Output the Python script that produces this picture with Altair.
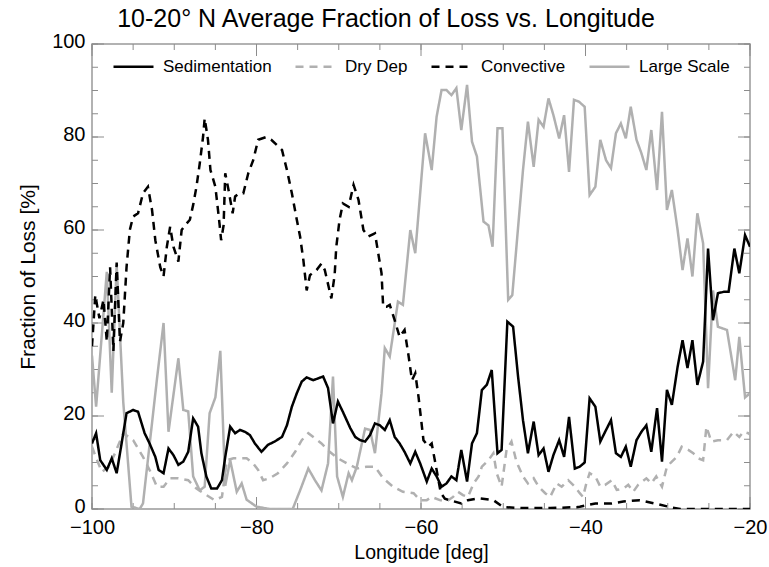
import altair as alt
import pandas as pd

FONT = "Liberation Sans"
SERIES = ["Sedimentation", "Dry Dep", "Convective", "Large Scale"]
COLORS = ["#000000", "#b0b0b0", "#000000", "#b0b0b0"]
DASHES = [[1, 0], [8, 6], [8, 6], [1, 0]]
DRAW_ORDER = ["Large Scale", "Dry Dep", "Convective", "Sedimentation"]

X_LABELS = [-100, -80, -60, -40, -20]
Y_LABELS = [0, 20, 40, 60, 80, 100]
X_MINOR = list(range(-100, -19, 5))
Y_MINOR = list(range(0, 101, 5))

# (longitude, percent)
sedimentation = [(-100, 14.1), (-99.5, 16.3), (-99.0, 10.5), (-98.2, 8.4), (-97.6, 10.9), (-97.0, 7.7),
    (-96.4, 14.1), (-95.8, 20.6), (-95.0, 21.3), (-94.4, 20.9), (-93.6, 16.3), (-93.0, 14.1),
    (-92.3, 11.2), (-91.9, 8.4), (-91.3, 7.7), (-90.7, 13), (-90.1, 11.6), (-89.5, 9.5),
    (-88.9, 10.2), (-88.3, 12.3), (-87.7, 19.5), (-87.1, 17.7), (-86.7, 12), (-86.1, 7),
    (-85.5, 4.4), (-84.8, 4.4), (-84.2, 6.2), (-83.8, 11.2), (-83.2, 17.7), (-82.6, 16.3),
    (-82.0, 17), (-81.4, 16.6), (-80.8, 15.9), (-80.2, 14.1), (-79.4, 12.3), (-78.6, 13.8),
    (-77.8, 14.5), (-76.9, 15.5), (-76.3, 18), (-75.7, 22), (-75.1, 24.9), (-74.5, 27.4),
    (-73.9, 28.3), (-73.1, 27.7), (-72.5, 28.1), (-71.9, 28.5), (-71.3, 26), (-70.7, 18.4),
    (-70.1, 23.1), (-69.5, 20.9), (-68.6, 17.4), (-68.0, 15.5), (-67.4, 14.8), (-66.8, 14.5),
    (-66.2, 15.9), (-65.6, 18.4), (-65.0, 18), (-64.4, 17), (-63.8, 19.1), (-63.2, 15.5),
    (-62.6, 14.1), (-62.0, 12.3), (-61.3, 9.8), (-60.7, 12.3), (-60.1, 9.8), (-59.3, 5.9),
    (-58.7, 8.7), (-58.1, 7), (-57.5, 4.8), (-56.9, 5.5), (-56.3, 7), (-55.7, 6.2),
    (-55.1, 12.7), (-54.4, 5.9), (-53.8, 14.1), (-53.2, 16.3), (-52.6, 25.6), (-52.0, 26.7),
    (-51.4, 29.9), (-50.7, 12), (-50.2, 12.7), (-49.5, 40.3), (-48.8, 39.2), (-48.2, 28.5),
    (-47.6, 19.1), (-47.0, 12), (-46.3, 18.8), (-45.7, 11.6), (-45.1, 13), (-44.5, 8),
    (-43.9, 11.6), (-43.2, 14.8), (-42.6, 11.2), (-42.0, 19.8), (-41.3, 8.7), (-40.7, 9.1),
    (-40.1, 10), (-39.5, 23.8), (-38.8, 22), (-38.2, 14.5), (-37.5, 17), (-36.9, 19.1),
    (-36.3, 12), (-35.7, 11.2), (-35.1, 13.4), (-34.5, 9.1), (-33.8, 14.8), (-33.2, 16.6),
    (-32.6, 18), (-32.0, 12.3), (-31.3, 21.7), (-30.7, 10.2), (-30.1, 25.6), (-29.5, 22.4),
    (-28.8, 30.6), (-28.2, 36.3), (-27.6, 30.3), (-27.0, 36.3), (-26.4, 26.7), (-25.7, 31.7),
    (-25.1, 56), (-24.5, 40.6), (-23.9, 46.4), (-23.2, 46.7), (-22.6, 46.7), (-21.9, 56),
    (-21.3, 50.7), (-20.6, 58.9), (-20.0, 56.4)]

dry_dep = [(-100, 13.4), (-99.5, 11), (-98.8, 8), (-98.0, 9), (-97.2, 12), (-96.2, 16.3),
    (-95.0, 14.8), (-93.8, 11.2), (-93.0, 8.4), (-92.1, 4.8), (-91.3, 4.8), (-90.5, 6.6),
    (-89.5, 6.6), (-88.3, 6.2), (-87.3, 4.4), (-86.1, 3), (-85.1, 1.9), (-84.2, 2.6),
    (-83.6, 10.5), (-82.8, 10.9), (-82.0, 10.9), (-81.2, 10.9), (-80.4, 9.8), (-79.8, 8.4),
    (-79.2, 6.2), (-78.4, 6.6), (-77.4, 7.7), (-76.3, 9.8), (-75.3, 12.3), (-74.5, 14.8),
    (-73.7, 16.3), (-72.9, 15.2), (-72.1, 14.1), (-71.1, 12.3), (-70.1, 10.9), (-69.0, 9.8),
    (-67.8, 8.7), (-66.6, 9.1), (-65.6, 9.1), (-64.6, 6.6), (-63.4, 4.8), (-62.2, 3.7),
    (-60.9, 3.4), (-60.1, 1.9), (-59.3, 1.9), (-58.7, 2.6), (-57.7, 1.9), (-56.9, 1.6),
    (-56.1, 2.6), (-55.5, 3.7), (-54.9, 3), (-54.3, 2.6), (-53.6, 5.5), (-53.0, 7),
    (-52.6, 9.1), (-51.8, 10.5), (-51.2, 12), (-50.8, 7.7), (-50.2, 4.8), (-49.6, 12.7),
    (-49.0, 14.5), (-48.4, 10.2), (-47.6, 7), (-47.0, 5.5), (-46.3, 6.6), (-45.7, 4.8),
    (-44.9, 3.4), (-44.3, 2.6), (-43.5, 5.5), (-42.9, 4.8), (-42.1, 6.2), (-41.3, 4.8),
    (-40.7, 3.4), (-40.3, 2.6), (-39.9, 5.5), (-39.5, 7.7), (-38.8, 7), (-38.2, 4.8),
    (-37.6, 5.2), (-36.8, 6.2), (-36.2, 4.1), (-35.4, 4.4), (-34.8, 5.2), (-34.2, 3.7),
    (-33.6, 5.2), (-32.6, 6.6), (-32.0, 5.5), (-31.4, 7), (-30.7, 4.8), (-30.1, 9.1),
    (-29.5, 10.2), (-28.9, 11.2), (-28.3, 13.4), (-27.5, 12.7), (-26.9, 12), (-26.3, 10.9),
    (-25.7, 10.5), (-25.3, 17.7), (-24.7, 14.5), (-23.9, 14.8), (-22.8, 14.8), (-22.0, 16.6),
    (-21.3, 15.5), (-20.8, 16.6), (-20.2, 16.3), (-20.0, 16)]

convective = [(-100, 35), (-99.6, 46), (-99.1, 41), (-98.6, 45), (-98.2, 36), (-97.8, 52),
    (-97.4, 34), (-97.0, 53), (-96.6, 36), (-96.2, 40), (-95.8, 52), (-95.4, 60),
    (-95.0, 62.9), (-94.4, 63.6), (-93.8, 67.9), (-93.2, 69.3), (-92.7, 64.3), (-92.3, 57.8),
    (-91.7, 52), (-91.3, 50), (-90.9, 56.4), (-90.5, 60.7), (-90.1, 56.4), (-89.5, 53.2),
    (-89.1, 60), (-88.5, 61.4), (-88.1, 62.2), (-87.7, 65.4), (-87.3, 69.3), (-86.9, 74.3),
    (-86.5, 80), (-86.3, 84), (-85.9, 79.4), (-85.6, 72.9), (-85.0, 69.3), (-84.5, 61.4),
    (-84.3, 57.8), (-84.0, 61), (-83.8, 72.2), (-83.4, 68.6), (-82.9, 63.6), (-82.6, 67.2),
    (-82.1, 67.9), (-81.6, 67.9), (-81.0, 72.2), (-80.4, 75), (-79.8, 79.4), (-78.8, 80),
    (-78.2, 79.4), (-76.9, 77.2), (-76.3, 72.9), (-75.7, 67.9), (-75.1, 62.2), (-74.7, 58.6),
    (-74.3, 53.5), (-73.9, 47), (-73.5, 50.3), (-72.7, 51.4), (-72.1, 52.8), (-71.7, 51.4),
    (-70.9, 45.3), (-70.5, 50.3), (-70.3, 56.4), (-69.9, 62.2), (-69.5, 65.7), (-68.8, 65),
    (-68.2, 69.7), (-67.6, 66.5), (-67.0, 60), (-66.4, 58.6), (-65.6, 59.3), (-65.2, 55),
    (-64.8, 50.7), (-64.6, 43.5), (-64.2, 43.5), (-63.8, 43.9), (-63.2, 40.6), (-62.6, 37),
    (-62.0, 38.5), (-61.5, 32.8), (-61.1, 27.7), (-60.7, 29.2), (-60.3, 24.1), (-59.7, 14.8),
    (-59.1, 13.4), (-58.7, 14.1), (-58.1, 8.4), (-57.6, 3.5), (-57.1, 2.2), (-56.5, 1.9),
    (-55.1, 1.2), (-54.3, 1.9), (-53.0, 2.3), (-51.2, 1.9), (-50.0, 0.4), (-47.6, 0.2),
    (-44.3, 0.2), (-41.1, 0.4), (-40.7, 0.5), (-38.8, 1.2), (-36.8, 1.2), (-35.4, 1.6),
    (-33.4, 1.9), (-31.6, 1.2), (-29.7, 0.4), (-28.5, 0), (-20.0, 0)]

large_scale = [(-100, 33), (-99.5, 22), (-98.2, 51), (-97.6, 25), (-97.0, 52.5), (-96.2, 23),
    (-95.2, 0.5), (-94.2, 0), (-93.8, 1.2), (-92.1, 28), (-91.3, 40), (-90.7, 16.6),
    (-89.5, 32.4), (-88.9, 21.3), (-88.3, 21), (-87.7, 7), (-86.9, 4), (-86.3, 4.8),
    (-85.7, 20.6), (-85.0, 24), (-84.4, 34), (-83.8, 5), (-83.2, 10.5), (-82.4, 3.7),
    (-81.8, 5.5), (-81.2, 2), (-80.0, 0.5), (-78.4, 0), (-75.6, 0), (-74.7, 4),
    (-73.7, 8.7), (-72.9, 6.2), (-72.1, 4), (-71.3, 9.8), (-70.7, 28.5), (-70.2, 7),
    (-69.5, 2.6), (-68.8, 7.7), (-68.4, 6.2), (-67.8, 9.1), (-66.8, 17.3), (-66.2, 17),
    (-65.6, 12), (-64.8, 24.9), (-64.4, 34.6), (-63.8, 32.8), (-62.8, 44.6), (-62.2, 43.9),
    (-61.3, 60), (-60.7, 55), (-59.5, 80.8), (-58.7, 72.9), (-58.1, 84.4), (-57.5, 90.1),
    (-56.9, 90.1), (-56.3, 89), (-55.7, 90.5), (-55.1, 81.5), (-54.4, 91.2), (-53.8, 79),
    (-53.2, 75.8), (-52.4, 61.8), (-51.8, 61), (-51.3, 56.4), (-50.7, 81.9), (-50.1, 81.9),
    (-49.4, 45), (-48.9, 46), (-47.6, 72.9), (-47.0, 83.3), (-46.3, 73.6), (-45.7, 83.7),
    (-45.1, 82.2), (-44.5, 88.3), (-43.9, 84.7), (-43.2, 79.7), (-42.6, 84.7), (-42.0, 72.5),
    (-41.4, 88), (-40.8, 87.6), (-40.1, 86.5), (-39.5, 67.5), (-38.8, 69.3), (-38.2, 79.4),
    (-37.5, 75), (-36.9, 73.3), (-36.3, 80.8), (-35.7, 82.9), (-35.1, 79.7), (-34.5, 86.5),
    (-33.8, 79.4), (-33.2, 76.5), (-32.6, 72.9), (-32.0, 81.5), (-31.3, 68.6), (-30.7, 85.4),
    (-30.1, 64.3), (-29.5, 68.6), (-28.8, 60), (-28.2, 51.4), (-27.6, 58.2), (-27.0, 50),
    (-26.4, 63.6), (-25.7, 57.1), (-25.1, 26), (-24.5, 47), (-23.9, 39.2), (-22.8, 38.5),
    (-21.8, 27.7), (-21.3, 37), (-20.6, 24), (-20.0, 24.9)]

series_data = {"Sedimentation": sedimentation, "Dry Dep": dry_dep,
               "Convective": convective, "Large Scale": large_scale}

rows = []
for name in DRAW_ORDER:
    for lon, val in series_data[name]:
        rows.append({"lon": lon, "pct": val, "series": name})
df = pd.DataFrame(rows)

W, H = 658, 465
xscale = alt.Scale(domain=[-100, -20], nice=False, zero=False)
yscale = alt.Scale(domain=[0, 100], nice=False, zero=True)

XAXIS = alt.Axis(values=X_LABELS, format="d", title="Longitude [deg]", ticks=False,
                 domain=False, grid=False, labelFlush=False, labelOverlap=False,
                 labelPadding=8, titlePadding=6, labelFontSize=20, titleFontSize=19.5)
YAXIS = alt.Axis(values=Y_LABELS, format="d", title="Fraction of Loss [%]", ticks=False,
                 domain=False, grid=False, labelFlush=False, labelOverlap=False,
                 labelPadding=7, titlePadding=13, labelFontSize=20, titleFontSize=21,
                 labelOffset=-3)

legend = alt.Legend(title=None, orient="none", legendX=20, legendY=1, direction="horizontal",
                    columns=4, columnPadding=18, symbolType="stroke", symbolSize=1600,
                    symbolStrokeWidth=2.5, labelFontSize=17, labelFont=FONT, labelColor="black",
                    labelOffset=8)

lines = alt.Chart(df).mark_line(strokeWidth=2.5, clip=True).encode(
    x=alt.X("lon:Q", scale=xscale, axis=XAXIS),
    y=alt.Y("pct:Q", scale=yscale, axis=YAXIS),
    color=alt.Color("series:N", scale=alt.Scale(domain=SERIES, range=COLORS), legend=legend),
    strokeDash=alt.StrokeDash("series:N", scale=alt.Scale(domain=SERIES, range=DASHES), legend=legend),
)

TICK_COLOR = "#8c8c8c"
def xticks(vals, length, top):
    d = pd.DataFrame({"lon": vals})
    y0 = 0 if top else H
    y1 = length if top else H - length
    return alt.Chart(d).mark_rule(color=TICK_COLOR, strokeWidth=1).encode(
        x=alt.X("lon:Q", scale=xscale, axis=XAXIS), y=alt.value(y0), y2=alt.value(y1))

def yticks(vals, length, right):
    d = pd.DataFrame({"pct": vals})
    x0 = W if right else 0
    x1 = W - length if right else length
    return alt.Chart(d).mark_rule(color=TICK_COLOR, strokeWidth=1).encode(
        y=alt.Y("pct:Q", scale=yscale, axis=YAXIS), x=alt.value(x0), x2=alt.value(x1))

ticks = [xticks(X_MINOR, 6, False), xticks(X_LABELS, 12, False),
         xticks(X_MINOR, 6, True), xticks(X_LABELS, 12, True),
         yticks(Y_MINOR, 6, False), yticks(Y_LABELS, 12, False),
         yticks(Y_MINOR, 6, True), yticks(Y_LABELS, 12, True)]

chart = alt.layer(*ticks, lines).properties(
    width=W, height=H,
    title=alt.TitleParams(text="10-20° N Average Fraction of Loss vs. Longitude", fontSize=25,
                          font=FONT, fontWeight="normal", anchor="middle", dx=-35, dy=4, offset=3,
                          color="black"),
    padding={"left": 92, "top": 44, "right": 19, "bottom": 58},
    autosize=alt.AutoSizeParams(type="none"),
).configure_axis(
    labelFont=FONT, titleFont=FONT,
    titleFontWeight="normal", labelColor="black", titleColor="black",
).configure_view(stroke="#999999", strokeWidth=1.5)

chart.save("out.html", embed_options={"renderer": "svg", "actions": False})
